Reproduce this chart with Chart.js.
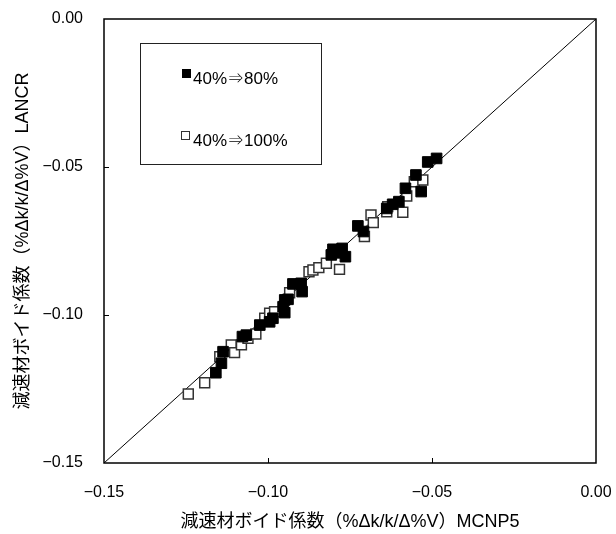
<!DOCTYPE html>
<html lang="ja">
<head>
    <meta charset="UTF-8">
    <title>減速材ボイド係数 LANCR vs MCNP5</title>
    <script src="https://cdn.jsdelivr.net/npm/chart.js"></script>
    <style>
        body {
            margin: 0;
            background: #fff;
        }
        #wrap {
            width: 616px;
            height: 534px;
        }
    </style>
</head>
<body>
    <div id="wrap">
        <canvas id="voidChart" width="616" height="534"></canvas>
    </div>

    <script>
        // 系列名
        const seriesNames = ['40%⇒80%', '40%⇒100%'];

        // 40%⇒80% (黒塗り)
        const filledX = [-0.0486, -0.0513, -0.0549, -0.0533, -0.0581, -0.0601, -0.0620, -0.0638, -0.0726, -0.0709,
                         -0.0774, -0.0802, -0.0807, -0.0764, -0.0790, -0.0899, -0.0924, -0.0896, -0.0949, -0.0939,
                         -0.0954, -0.0949, -0.0985, -0.0995, -0.1025, -0.1066, -0.1078, -0.1137, -0.1142, -0.1159];
        const filledY = [-0.0471, -0.0483, -0.0527, -0.0583, -0.0572, -0.0617, -0.0626, -0.0640, -0.0699, -0.0718,
                         -0.0775, -0.0778, -0.0797, -0.0803, -0.0790, -0.0893, -0.0895, -0.0921, -0.0949, -0.0947,
                         -0.0972, -0.0992, -0.1011, -0.1023, -0.1034, -0.1068, -0.1073, -0.1124, -0.1163, -0.1195];

        // 40%⇒100% (白抜き)
        const openX = [-0.1243, -0.1193, -0.1147, -0.1112, -0.1102, -0.1081, -0.1061, -0.1037, -0.1010, -0.0995,
                       -0.0980, -0.0934, -0.0875, -0.0863, -0.0845, -0.0822, -0.0782, -0.0706, -0.0686, -0.0679,
                       -0.0638, -0.0635, -0.0589, -0.0577, -0.0554, -0.0528];
        const openY = [-0.1267, -0.1229, -0.1141, -0.1101, -0.1127, -0.1101, -0.1079, -0.1064, -0.1011, -0.0994,
                       -0.0989, -0.0925, -0.0854, -0.0848, -0.0840, -0.0825, -0.0846, -0.0735, -0.0662, -0.0688,
                       -0.0651, -0.0634, -0.0653, -0.0598, -0.0550, -0.0544];

        // y = x の線
        const diagX = [-0.15, 0.00];

        // 軸
        const axisMin = -0.15;
        const axisMax = 0.00;
        const axisStep = 0.05;
        const xTitle = '減速材ボイド係数（%Δk/k/Δ%V）MCNP5';
        const yTitle = '減速材ボイド係数（%Δk/k/Δ%V）LANCR';

        const toPoints = (xs, ys) => xs.map((x, i) => ({ x: x, y: ys[i] }));
        const fmt = v => (v < -1e-9 ? '\u2212' : '') + Math.abs(v).toFixed(2);

        const tickFont = { family: '"Liberation Sans", Arial, sans-serif', size: 16 };
        const titleFont = { family: '"Liberation Sans", "Noto Sans CJK JP", sans-serif', size: 18 };

        // 枠・内向き目盛・凡例
        const framePlugin = {
            id: 'frame',
            afterDraw(chart) {
                const { ctx, chartArea: a, scales } = chart;
                ctx.save();
                ctx.strokeStyle = '#000';
                ctx.lineWidth = 1.5;
                ctx.strokeRect(a.left, a.top, a.right - a.left, a.bottom - a.top);

                ctx.lineWidth = 1;
                ctx.beginPath();
                for (let v = axisMin + axisStep; v < axisMax - 1e-9; v += axisStep) {
                    const px = Math.round(scales.x.getPixelForValue(v)) + 0.5;
                    ctx.moveTo(px, a.bottom);
                    ctx.lineTo(px, a.bottom - 5);
                    const py = Math.round(scales.y.getPixelForValue(v)) + 0.5;
                    ctx.moveTo(a.left, py);
                    ctx.lineTo(a.left + 5, py);
                }
                ctx.stroke();

                // 凡例
                const bx = 140.5, by = 43.5, bw = 181, bh = 121;
                ctx.fillStyle = '#fff';
                ctx.fillRect(bx, by, bw, bh);
                ctx.strokeStyle = '#222';
                ctx.lineWidth = 1;
                ctx.strokeRect(bx, by, bw, bh);

                ctx.font = '17px "Liberation Sans", Arial, sans-serif';
                ctx.textBaseline = 'alphabetic';
                ctx.textAlign = 'left';
                ctx.fillStyle = '#000';
                ctx.fillRect(182, 69, 9, 9);
                ctx.fillText(chart.data.datasets[0].label, 193, 84);

                ctx.strokeStyle = '#333';
                ctx.strokeRect(181.5, 131.5, 8, 8);
                ctx.fillStyle = '#000';
                ctx.fillText(chart.data.datasets[1].label, 193, 146);
                ctx.restore();
            }
        };

        const voidChart = new Chart(document.getElementById('voidChart'), {
            type: 'scatter',
            data: {
                datasets: [
                    {
                        label: seriesNames[0],
                        data: toPoints(filledX, filledY),
                        pointStyle: 'rect',
                        pointRadius: 7.5,
                        backgroundColor: '#000',
                        borderColor: '#000',
                        borderWidth: 1,
                        order: 1
                    },
                    {
                        label: seriesNames[1],
                        data: toPoints(openX, openY),
                        pointStyle: 'rect',
                        pointRadius: 7,
                        backgroundColor: '#fff',
                        borderColor: '#333',
                        borderWidth: 1.5,
                        order: 2
                    },
                    {
                        label: 'y=x',
                        data: toPoints(diagX, diagX),
                        showLine: true,
                        pointRadius: 0,
                        borderColor: '#000',
                        borderWidth: 1,
                        order: 3
                    }
                ]
            },
            options: {
                responsive: false,
                animation: false,
                layout: {
                    padding: { top: 19, right: 20, left: 0, bottom: 0 }
                },
                plugins: {
                    legend: { display: false },
                    tooltip: { enabled: false }
                },
                scales: {
                    x: {
                        min: axisMin,
                        max: axisMax,
                        grid: { display: false, drawTicks: false },
                        border: { display: false },
                        ticks: {
                            stepSize: axisStep,
                            color: '#000',
                            font: tickFont,
                            padding: 20,
                            maxRotation: 0,
                            callback: v => fmt(v)
                        },
                        title: {
                            display: true,
                            text: xTitle,
                            color: '#000',
                            font: titleFont,
                            padding: { top: 0, bottom: 1 }
                        },
                        afterFit: s => {
                            s.height = 71;
                            s.paddingLeft = 0;
                            s.paddingRight = 0;
                        }
                    },
                    y: {
                        min: axisMin,
                        max: axisMax,
                        grid: { display: false, drawTicks: false },
                        border: { display: false },
                        ticks: {
                            stepSize: axisStep,
                            color: '#000',
                            font: tickFont,
                            padding: 21,
                            callback: v => fmt(v)
                        },
                        title: {
                            display: true,
                            text: yTitle,
                            color: '#000',
                            font: titleFont,
                            padding: { top: 12, bottom: 0 }
                        },
                        afterFit: s => {
                            s.width = 104;
                            s.paddingTop = 0;
                            s.paddingBottom = 0;
                        }
                    }
                }
            },
            plugins: [framePlugin]
        });
    </script>
</body>
</html>
